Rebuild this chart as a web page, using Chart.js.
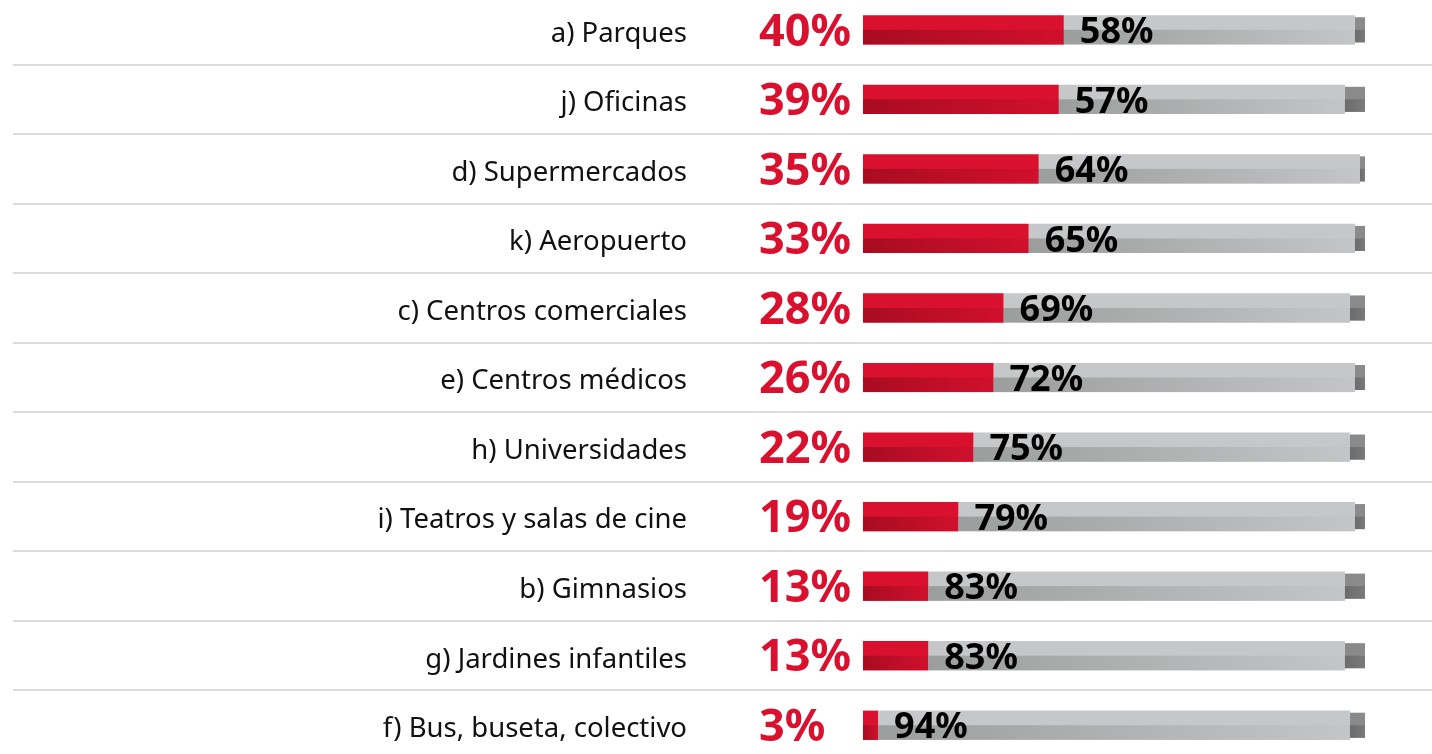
<!DOCTYPE html>
<html>
<head>
<meta charset="utf-8">
<script src="https://cdn.jsdelivr.net/npm/chart.js@4.4.1/dist/chart.umd.min.js"></script>
<style>
  html, body { margin: 0; padding: 0; background: #fff; overflow: hidden; }
  #wrap { position: relative; width: 1432px; height: 754px; overflow: hidden; }
  #lienzo { position: absolute; left: 0; top: -5px; width: 1432px; height: 765px; }
</style>
</head>
<body>
<div id="wrap"><div id="lienzo"><canvas id="grafico"></canvas></div></div>
<script>
// categorias y valores
var categorias = [
  "a) Parques", "j) Oficinas", "d) Supermercados", "k) Aeropuerto",
  "c) Centros comerciales", "e) Centros médicos", "h) Universidades",
  "i) Teatros y salas de cine", "b) Gimnasios", "g) Jardines infantiles",
  "f) Bus, buseta, colectivo"
];
var valoresRojo = [40, 39, 35, 33, 28, 26, 22, 19, 13, 13, 3];
var valoresGris = [58, 57, 64, 65, 69, 72, 75, 79, 83, 83, 94];
var valoresResto = [2, 4, 1, 2, 3, 2, 3, 2, 4, 4, 3];

var rojo = "#d9112e";

// mitad inferior de cada barra con degradado, como en el original
var degradados = [
  ["#a80c21", "#d0102d"],
  ["#9c9d9d", "#c4c5c6"],
  ["#6c6c6c", "#7a7a7a"]
];

var pluginBarras = {
  id: "barras",
  beforeDatasetsDraw: function (chart) {
    var ctx = chart.ctx;
    var y = chart.scales.y;
    ctx.save();
    ctx.strokeStyle = "#dcdcdc";
    ctx.lineWidth = 2;
    for (var i = 0; i < categorias.length - 1; i++) {
      var py = Math.round((y.getPixelForValue(i) + y.getPixelForValue(i + 1)) / 2);
      ctx.beginPath();
      ctx.moveTo(13, py);
      ctx.lineTo(chart.width, py);
      ctx.stroke();
    }
    ctx.restore();
  },
  afterDatasetsDraw: function (chart) {
    var ctx = chart.ctx;
    ctx.save();
    // sombra inferior
    for (var d = 0; d < 3; d++) {
      var meta = chart.getDatasetMeta(d);
      meta.data.forEach(function (bar) {
        var p = bar.getProps(["x", "y", "base", "height"], true);
        var x0 = Math.min(p.x, p.base), x1 = Math.max(p.x, p.base);
        if (x1 - x0 < 0.5) return;
        var g = ctx.createLinearGradient(x0, 0, x1, 0);
        g.addColorStop(0, degradados[d][0]);
        g.addColorStop(1, degradados[d][1]);
        ctx.fillStyle = g;
        ctx.fillRect(x0, p.y, x1 - x0, p.height / 2);
      });
    }
    // etiquetas de porcentaje
    var metaRojo = chart.getDatasetMeta(0);
    ctx.textBaseline = "middle";
    metaRojo.data.forEach(function (bar, i) {
      var p = bar.getProps(["x", "y", "base"], true);
      ctx.fillStyle = rojo;
      ctx.textAlign = "left";
      ctx.font = "bold 45px 'Noto Sans'";
      ctx.fillText(valoresRojo[i] + "%", p.base - 104, p.y + 3);
      ctx.fillStyle = "#000";
      ctx.font = "bold 36px 'Noto Sans'";
      ctx.fillText(valoresGris[i] + "%", p.x + 16, p.y + 3);
    });
    ctx.restore();
  }
};

var ctx = document.getElementById("grafico").getContext("2d");
var chart = new Chart(ctx, {
  type: "bar",
  data: {
    labels: categorias,
    datasets: [
      { label: "rojo", data: valoresRojo, backgroundColor: rojo, barPercentage: 0.42, categoryPercentage: 1 },
      { label: "gris", data: valoresGris, backgroundColor: "#c6c7c9", barPercentage: 0.42, categoryPercentage: 1 },
      { label: "resto", data: valoresResto, backgroundColor: "#8a8a8a", barPercentage: 0.36, categoryPercentage: 1 }
    ]
  },
  options: {
    responsive: true,
    maintainAspectRatio: false,
    animation: false,
    indexAxis: "y",
    layout: { padding: { left: 0, right: 67, top: 0, bottom: 0 } },
    plugins: { legend: { display: false }, tooltip: { enabled: false } },
    scales: {
      x: { stacked: true, min: 0, max: 100, display: false },
      y: {
        stacked: true,
        grid: { display: false, drawTicks: false },
        border: { display: false },
        afterFit: function (scale) {
          scale.width = 863;
          scale.paddingTop = 0;
          scale.paddingBottom = 0;
        },
        ticks: {
          padding: 176,
          labelOffset: 4,
          color: "#111",
          font: { family: "'Noto Sans'", size: 27.5 }
        }
      }
    }
  },
  plugins: [pluginBarras]
});
</script>
</body>
</html>
